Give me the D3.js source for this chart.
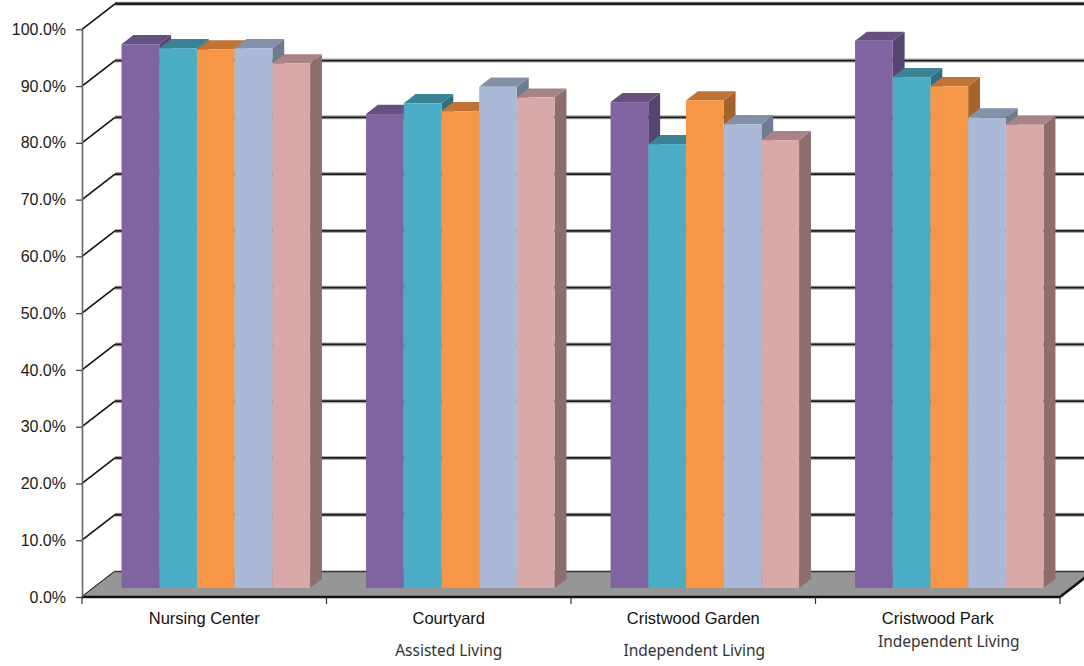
<!DOCTYPE html>
<html lang="en">
<head>
<meta charset="UTF-8">
<title>3D column chart</title>
<script src="https://cdn.jsdelivr.net/npm/d3@7"></script>
<style>
  body { margin: 0; background: #fff; }
  svg { display: block; }
</style>
</head>
<body>
<div id="chart"></div>
<script>
// data
const categories = ["Nursing Center", "Courtyard", "Cristwood Garden", "Cristwood Park"];
const subLabels = ["", "Assisted Living", "Independent Living", "Independent Living"];
const series = ["Series 1", "Series 2", "Series 3", "Series 4", "Series 5"];
const series1 = [95.8, 83.5, 85.6, 96.4];
const series2 = [95.1, 85.4, 78.2, 90.0];
const series3 = [94.9, 84.0, 85.9, 88.4];
const series4 = [95.1, 88.3, 81.7, 82.9];
const series5 = [92.4, 86.4, 78.9, 81.6];
const yTicks = [0, 10, 20, 30, 40, 50, 60, 70, 80, 90, 100];

const values = [series1, series2, series3, series4, series5];

// colours: front, top, side
const colors = [
  ["#8064a2", "#65507f", "#564471"],
  ["#4bacc6", "#3a8395", "#306f80"],
  ["#f79646", "#bf7436", "#a4632a"],
  ["#abb9d8", "#8390a8", "#6f7b91"],
  ["#d9a9a9", "#a88584", "#8c6e6c"]
];

const width = 1084, height = 666;
const plot = { left: 82, right: 1060, top: 29.3, bottom: 597 };
// depth of the floor / walls
const depth = { dx: 33, dy: -25.5 };
// bars sit from 35% to 71% of the depth
const barFront = 0.35, barDepth = 0.36;

const svg = d3.select("#chart").append("svg")
  .attr("width", width).attr("height", height);

const y = d3.scaleLinear().domain([0, 100]).range([plot.bottom, plot.top]);
const x0 = d3.scaleBand().domain(categories).range([plot.left, plot.right]).padding(0);
const x1 = d3.scaleBand().domain(series).range([0, x0.bandwidth()])
  .paddingInner(0).paddingOuter(0.742);

// back wall gridlines + left wall diagonals
const grid = svg.append("g");
yTicks.forEach(t => {
  const yf = y(t), yb = y(t) + depth.dy;
  const xb = plot.left + depth.dx;
  grid.append("path")
    .attr("d", `M${plot.left},${yf}L${xb},${yb}`)
    .attr("stroke", "#111").attr("stroke-width", 1.6).attr("fill", "none");
  if (t > 0) {
    grid.append("line")
      .attr("x1", xb).attr("x2", width + 20).attr("y1", yb).attr("y2", yb)
      .attr("stroke", "#aaa").attr("stroke-width", 4);
    grid.append("line")
      .attr("x1", xb).attr("x2", width + 20).attr("y1", yb).attr("y2", yb)
      .attr("stroke", "#1c1c1c").attr("stroke-width", t === 100 ? 2.4 : 1.8);
  }
});

// floor
const fb = plot.bottom + depth.dy;
svg.append("path")
  .attr("d", `M${plot.left},${plot.bottom}L${plot.right},${plot.bottom}` +
    `L${plot.right + depth.dx},${fb}L${plot.left + depth.dx},${fb}Z`)
  .attr("fill", "#969696");
svg.append("line")
  .attr("x1", plot.left + depth.dx).attr("x2", width + 20).attr("y1", fb).attr("y2", fb)
  .attr("stroke", "#333").attr("stroke-width", 1.5);
svg.append("path")
  .attr("d", `M${plot.left},${plot.bottom}L${plot.right},${plot.bottom}L${plot.right + depth.dx},${fb}`)
  .attr("stroke", "#111").attr("stroke-width", 2.6).attr("fill", "none");

// bars
const fdx = depth.dx * barFront, fdy = depth.dy * barFront;
const bdx = depth.dx * barDepth, bdy = depth.dy * barDepth;
const bars = svg.append("g");
categories.forEach((c, ci) => {
  series.forEach((s, si) => {
    const v = values[si][ci];
    const xl = x0(c) + x1(s) + fdx;
    const xr = xl + x1.bandwidth();
    const yt = y(v) + fdy;
    const yb = y(0) + fdy;
    const g = bars.append("g");
    // side face
    g.append("path")
      .attr("d", `M${xr},${yt}L${xr + bdx},${yt + bdy}L${xr + bdx},${yb + bdy}L${xr},${yb}Z`)
      .attr("fill", colors[si][2]);
    // top face
    g.append("path")
      .attr("d", `M${xl},${yt}L${xr},${yt}L${xr + bdx},${yt + bdy}L${xl + bdx},${yt + bdy}Z`)
      .attr("fill", colors[si][1]);
    // front face
    g.append("rect")
      .attr("x", xl).attr("y", yt)
      .attr("width", x1.bandwidth()).attr("height", yb - yt)
      .attr("fill", colors[si][0]);
  });
});

// y axis
const yAxis = svg.append("g")
  .attr("transform", `translate(${plot.left},0)`)
  .call(d3.axisLeft(y).tickValues(yTicks).tickSize(6).tickSizeOuter(0).tickPadding(10)
    .tickFormat(d => d.toFixed(1) + "%"));
yAxis.select(".domain").attr("stroke", "#666").attr("stroke-width", 1.6);
yAxis.selectAll(".tick line").attr("stroke", "#444").attr("stroke-width", 1.3);
yAxis.selectAll("text")
  .attr("font-family", "'Liberation Sans', Arial, sans-serif")
  .attr("font-size", "16px").attr("fill", "#1a1a1a");

// category separators
const sepX = categories.map(c => x0(c)).concat([plot.right]);
svg.selectAll(".sep").data(sepX).enter().append("line")
  .attr("x1", d => d).attr("x2", d => d)
  .attr("y1", plot.bottom).attr("y2", plot.bottom + 7)
  .attr("stroke", "#333").attr("stroke-width", 1.2);

// category labels
const xAxis = svg.append("g")
  .attr("transform", `translate(0,${plot.bottom})`)
  .call(d3.axisBottom(x0).tickSize(0).tickPadding(15.5));
xAxis.select(".domain").remove();
xAxis.selectAll("text")
  .attr("font-family", "'Liberation Sans', Arial, sans-serif")
  .attr("font-size", "16.5px").attr("fill", "#111");

// sub labels
const subY = [656, 656, 656, 647];
const subDx = [0, 0, 1, 11];
svg.selectAll(".sub").data(categories).enter().append("text")
  .attr("x", (d, i) => x0(d) + x0.bandwidth() / 2 + subDx[i])
  .attr("y", (d, i) => subY[i])
  .attr("text-anchor", "middle")
  .attr("font-family", "'Noto Sans', 'Open Sans', sans-serif")
  .attr("font-size", "15.5px").attr("fill", "#333")
  .text((d, i) => subLabels[i]);
</script>
</body>
</html>
